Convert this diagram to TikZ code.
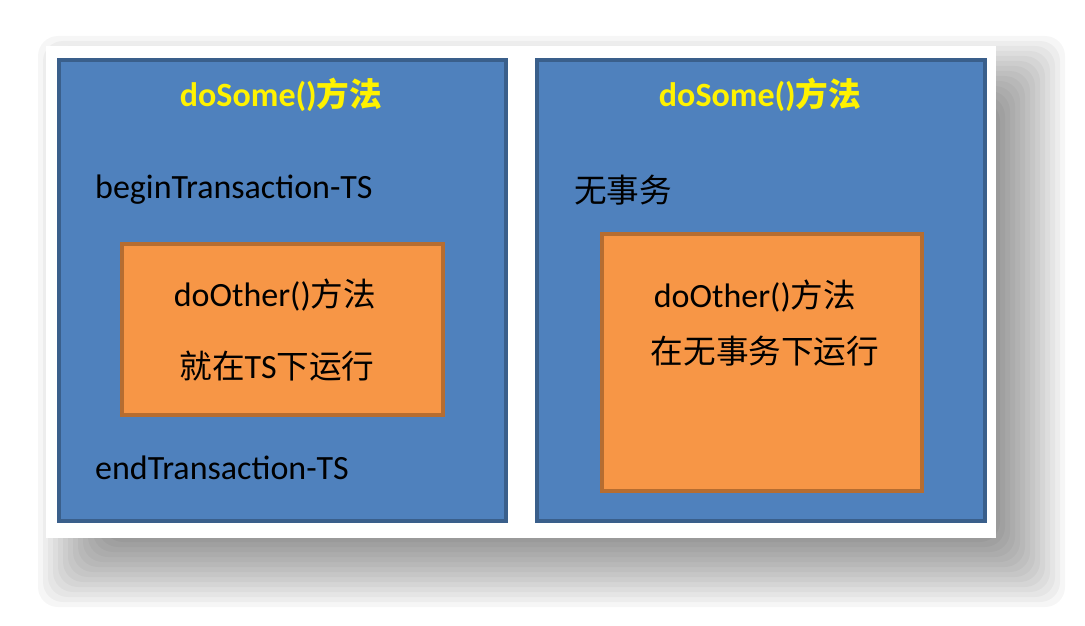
\documentclass[tikz,border=0pt]{standalone}
\usepackage{fontspec}
\setmainfont{Carlito}
\newfontfamily\cjk[Scale=0.96]{Noto Sans CJK SC}
\newcommand{\zhtxt}[1]{{\cjk #1}}
\usepackage{tikz}
\usetikzlibrary{positioning}
\definecolor{boxblue}{HTML}{4F81BD}
\definecolor{boxblueline}{HTML}{3A5F8B}
\definecolor{boxorange}{HTML}{F79646}
\definecolor{boxorangeline}{HTML}{B66D31}
\begin{document}
\begin{tikzpicture}[x=1pt, y=-1pt, font=\fontsize{34}{38}\selectfont,
    method/.style={draw=boxblueline, fill=boxblue, line width=4pt, inner sep=0pt},
    callee/.style={draw=boxorangeline, fill=boxorange, line width=4pt, inner sep=0pt},
    mtitle/.style={text=yellow, font=\fontsize{34}{38}\selectfont\bfseries, inner sep=0pt},
    txt/.style={text=black, inner sep=0pt}]
  \useasboundingbox (0,0) rectangle (1085,626);
  % soft shadow under the panel
  \foreach \i in {0,...,13}
    \fill[black, fill opacity=0.035, rounded corners=20pt]
      (38+5*\i,36+5*\i) rectangle (1065-5*\i,607-5*\i);
  \node[fill=white, inner sep=0pt, minimum width=950pt, minimum height=492pt] (panel) at (521,292) {};
  % left: with transaction
  \node[method, minimum width=447pt, minimum height=461pt] (some1) at (282.5,290.5) {};
  \node[callee, minimum width=321pt, minimum height=171pt] (other1) at (282.5,329.5) {};
  \node[mtitle] (title1) at (281,95) {doSome()\zhtxt{方法}};
  \node[txt, anchor=west] (begin) at (95,190) {beginTransaction-TS};
  \node[txt] (call1) at (275,295) {doOther()\zhtxt{方法}};
  \node[txt] (run1) at (277,366) {\zhtxt{就在}TS\zhtxt{下运行}};
  \node[txt, anchor=west] (end) at (95,468) {endTransaction-TS};
  % right: no transaction
  \node[method, minimum width=448pt, minimum height=461pt] (some2) at (761,290.5) {};
  \node[callee, minimum width=320pt, minimum height=257pt] (other2) at (762,362.5) {};
  \node[mtitle] (title2) at (760,95) {doSome()\zhtxt{方法}};
  \node[txt, anchor=west] (none) at (574,190) {\zhtxt{无事务}};
  \node[txt] (call2) at (755,296) {doOther()\zhtxt{方法}};
  \node[txt] (run2) at (765,351) {\zhtxt{在无事务下运行}};
\end{tikzpicture}
\end{document}
